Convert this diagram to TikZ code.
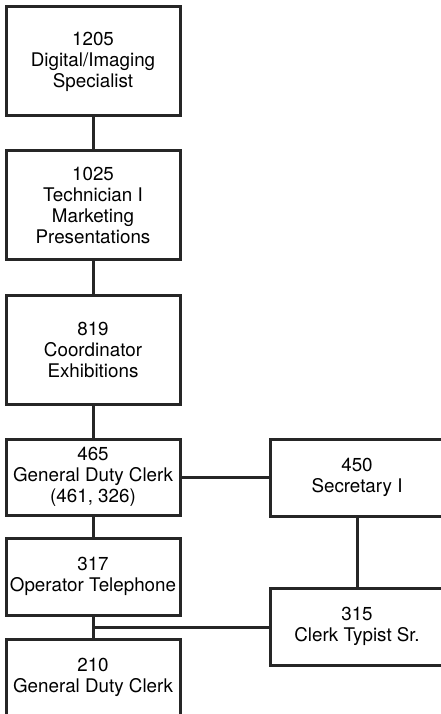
\documentclass[tikz,border=0pt]{standalone}
\usepackage{fontspec}
\setmainfont{TeX Gyre Heros}
\usetikzlibrary{calc}
\begin{document}
\begin{tikzpicture}[x=1pt,y=-1pt]
       \tikzstyle{frame} = [rectangle, draw=black!85, line width=3pt, minimum width=174pt, align=center, inner sep=0pt, font=\fontsize{18.8}{21}\selectfont];
       \tikzstyle{link} = [draw=black!85, line width=3pt];
       \useasboundingbox (0,0) rectangle (441,714);
       \clip (0,0) rectangle (441,714);
       % left column
       \node[frame, minimum height=109pt] (digital) at (93,61.5) {1205\\Digital/Imaging\\Specialist};
       \node[frame, minimum height=108pt] (technician) at (93,205) {1025\\Technician I\\Marketing\\Presentations};
       \node[frame, minimum height=109pt] (coordinator) at (93,349.5) {819\\Coordinator\\Exhibitions};
       \node[frame, minimum height=76pt] (gdclerk) at (93,477) {465\\General Duty Clerk\\(461, 326)};
       \node[frame, minimum height=77pt] (operator) at (93,576.5) {317\\Operator Telephone};
       \node[frame, minimum height=77pt] (clerk) at (93,677.5) {210\\General Duty Clerk};
       % right column
       \node[frame, minimum height=77pt] (secretary) at (357,477.5) {450\\Secretary I};
       \node[frame, minimum height=77pt] (typist) at (357,626.5) {315\\Clerk Typist Sr.};

       \draw[link] (digital.south) -- (technician.north);
       \draw[link] (technician.south) -- (coordinator.north);
       \draw[link] (coordinator.south) -- (gdclerk.north);
       \draw[link] (gdclerk.south) -- (operator.north);
       \draw[link] (operator.south) -- (clerk.north);
       \draw[link] (gdclerk.east) -- (gdclerk.east -| secretary.west);
       \draw[link] (secretary.south) -- (typist.north);
       \coordinate (join) at ($(operator.south)!0.5!(clerk.north)$);
       \draw[link] (join) -- (join -| typist.west);
     \end{tikzpicture}
\end{document}
